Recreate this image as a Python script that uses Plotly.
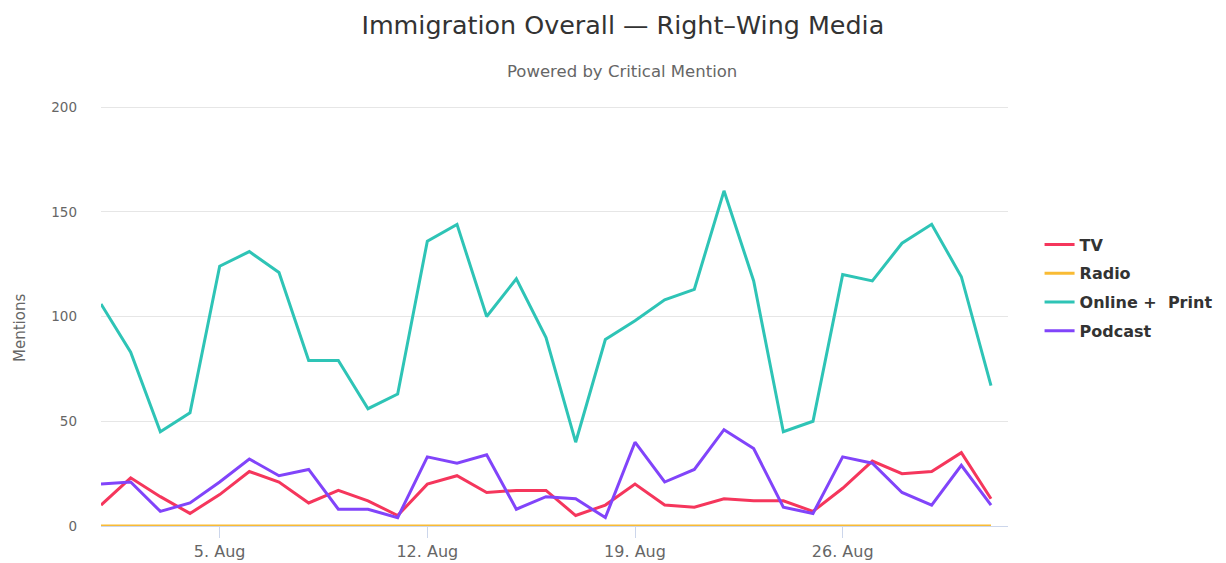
import plotly.graph_objects as go
import pandas as pd

dates = pd.date_range("2019-08-01", "2019-08-31", freq="D")

tv = [10, 23, 14, 6, 15, 26, 21, 11, 17, 12, 5, 20, 24, 16, 17, 17,
      5, 10, 20, 10, 9, 13, 12, 12, 7, 18, 31, 25, 26, 35, 13]
radio = [0] * 31
online_print = [106, 83, 45, 54, 124, 131, 121, 79, 79, 56, 63, 136, 144, 100, 118, 90,
                40, 89, 98, 108, 113, 160, 117, 45, 50, 120, 117, 135, 144, 119, 67]
podcast = [20, 21, 7, 11, 21, 32, 24, 27, 8, 8, 4, 33, 30, 34, 8, 14,
           13, 4, 40, 21, 27, 46, 37, 9, 6, 33, 30, 16, 10, 29, 10]

series_names = ["TV", "Radio", "Online +\u00a0 Print", "Podcast"]
series_values = [tv, radio, online_print, podcast]
series_colors = ["#F5365C", "#F9BB34", "#2EC4B6", "#8144FA"]

tick_dates = ["2019-08-05", "2019-08-12", "2019-08-19", "2019-08-26"]
tick_labels = ["5. Aug", "12. Aug", "19. Aug", "26. Aug"]
y_ticks = [0, 50, 100, 150, 200]

fig = go.Figure()
for i, (name, vals, col) in enumerate(zip(series_names, series_values, series_colors)):
    fig.add_trace(go.Scatter(
        x=dates, y=vals, name=name, mode="lines",
        line=dict(color=col, width=3),
        legendgroup=f"g{i}",
    ))

# plot area: x 101..1008, y 106..526
fig.update_layout(
    width=1226, height=563,
    margin=dict(l=101, r=218, t=106, b=37, autoexpand=False),
    paper_bgcolor="white", plot_bgcolor="white",
    font=dict(family="DejaVu Sans", color="#666666"),
    title=dict(
        text="Immigration Overall \u2014 Right\u2013Wing Media",
        x=0.508, xanchor="center", xref="container",
        y=0.956, yanchor="middle", yref="container",
        font=dict(family="DejaVu Sans", size=25.4, color="#333333"),
    ),
    annotations=[
        dict(
            text="Powered by Critical Mention", xref="paper", yref="paper",
            x=(622 - 101) / 907, y=1.0, yshift=35, showarrow=False,
            xanchor="center", yanchor="middle",
            font=dict(family="DejaVu Sans", size=16.5, color="#666666"),
        ),
        dict(
            text="Mentions", xref="paper", yref="paper",
            x=(20 - 101) / 907, y=(526 - 328) / 420, showarrow=False,
            textangle=-90, xanchor="center", yanchor="middle",
            font=dict(family="DejaVu Sans", size=15, color="#666666"),
        ),
    ],
    legend=dict(
        x=1.0348, xanchor="left", xref="paper", y=(526 - 288) / 420, yanchor="middle",
        font=dict(family="DejaVu Sans", size=16, color="#333333", weight=600),
        tracegroupgap=5, traceorder="grouped",
        bgcolor="rgba(0,0,0,0)", itemwidth=30,
    ),
    showlegend=True,
)

fig.update_xaxes(
    range=[pd.Timestamp("2019-08-01"), pd.Timestamp("2019-08-31 13:45")],
    tickvals=pd.to_datetime(tick_dates), ticktext=tick_labels,
    showgrid=False, showline=True, linecolor="#CCD6EB", linewidth=1,
    ticks="outside", ticklen=11, tickcolor="#CCD6EB", tickwidth=1,
    tickfont=dict(size=16, color="#666666"), zeroline=False, automargin=False,
)
fig.update_yaxes(
    range=[0, 200.5], tickvals=y_ticks,
    showgrid=True, gridcolor="#E6E6E6", gridwidth=1,
    zeroline=False, showline=False, automargin=False,
    tickfont=dict(size=13.5, color="#666666"), ticklabelstandoff=23,
)

fig.write_html(
    "out.html",
    config={"displayModeBar": False},
    post_script="document.body.style.margin='0';document.body.style.overflow='hidden';",
)
